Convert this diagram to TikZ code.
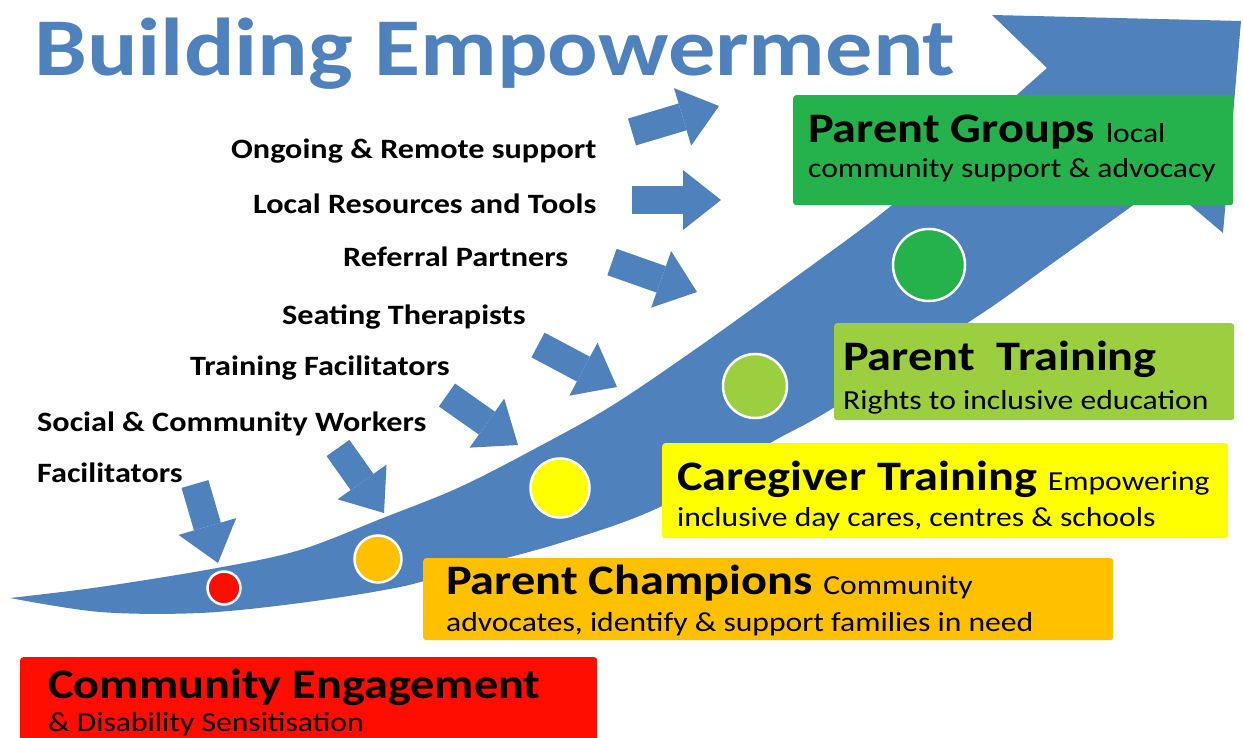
\documentclass[tikz,border=0pt]{standalone}
\usepackage{fontspec}
\setmainfont{Carlito}[FakeStretch=1.15]
\usetikzlibrary{arrows.meta}
\definecolor{pathBlue}{HTML}{4F81BD}
\definecolor{grpGreen}{HTML}{25B14C}
\definecolor{trainLime}{HTML}{9BCF3F}
\definecolor{careYellow}{HTML}{FFFF00}
\definecolor{champOrange}{HTML}{FFC000}
\definecolor{engageRed}{HTML}{FF0D00}
\tikzset{
  headline/.style={anchor=base west,inner sep=0pt,text=pathBlue,font=\bfseries\fontsize{82}{88}\selectfont},
  helper/.style={anchor=base west,inner sep=0pt,font=\bfseries\fontsize{28}{32}\selectfont},
  stagebox/.style={rectangle,rounded corners=3pt,anchor=north west,inner sep=0pt},
  stagetitle/.style={anchor=base west,inner sep=0pt,font=\bfseries\fontsize{42}{48}\selectfont},
  stagenote/.style={anchor=base west,inner sep=0pt,font=\fontsize{27.5}{32}\selectfont},
  milestone/.style={circle,draw=white,line width=2.5pt,inner sep=0pt},
  feed/.style={draw=pathBlue,line width=28pt,-{Triangle[length=38pt,width=60pt,line width=0pt]}}
}
\newcommand\aside[1]{{\mdseries\fontsize{27.5}{32}\selectfont #1}}

\begin{document}
\begin{tikzpicture}[x=1pt,y=-1pt]
  \useasboundingbox (0,0) rectangle (1243,738);
  \fill[white] (0,0) rectangle (1243,738);
  \clip (0,0) rectangle (1243,738);

  % the rising path with its head
  \fill[pathBlue]
    plot[smooth,tension=0.55] coordinates {(10,598) (100,587) (217,568) (300,550) (383,518) (460,487)
      (540,446) (613,405) (700,346) (800,274) (886,210) (966,140) (1047,68)}
    -- (992,15) -- (1241,21) -- (1223,233) -- (1164,183)
    -- plot[smooth,tension=0.55] coordinates {(1164,183) (1050,265) (975,318) (830,410) (772,442)
      (660,507) (560,543) (460,570) (400,587) (300,603) (200,613) (100,612) (10,598)}
    -- cycle;

  \node[headline] (title) at (34,76) {Building Empowerment};

  % supports feeding into the path
  \node[helper] (ongoing) at (231,159) {Ongoing \& Remote support};
  \node[helper] (local) at (253,214) {Local Resources and Tools};
  \node[helper] (referral) at (343,267) {Referral Partners};
  \node[helper] (seating) at (282,324) {Seating Therapists};
  \node[helper] (trainers) at (190,375) {Training Facilitators};
  \node[helper] (social) at (37,431) {Social \& Community Workers};
  \node[helper] (facil) at (37,482) {Facilitators};

  \foreach \sx/\sy/\ex/\ey [count=\i] in {632/132/719/106, 632/200/721/200, 612/262/697/292,
      538/345/617/387, 447/395/518/445, 338/448/384/513, 195/484/218/563} {
    \coordinate (src\i) at (\sx,\sy);
    \coordinate (dst\i) at (\ex,\ey);
    \draw[feed] (src\i) -- (dst\i);
  }

  % milestones along the path
  \node[milestone,fill=engageRed,minimum size=33pt] (m1) at (224,588) {};
  \node[milestone,fill=champOrange,minimum size=47pt] (m2) at (378,559) {};
  \node[milestone,fill=careYellow,minimum size=59pt] (m3) at (560,488) {};
  \node[milestone,fill=trainLime,minimum size=64pt] (m4) at (755,386) {};
  \node[milestone,fill=grpGreen,minimum size=72pt] (m5) at (929,265) {};

  % stages
  \node[stagebox,fill=grpGreen,minimum width=440pt,minimum height=110pt] (groups) at (793,95) {};
  \node[stagetitle] (groupsT) at (808,143) {Parent Groups \aside{local}};
  \node[stagenote] (groupsN) at (808,178) {community support \& advocacy};

  \node[stagebox,fill=trainLime,minimum width=400pt,minimum height=97pt] (training) at (834,323) {};
  \node[stagetitle] (trainingT) at (843,370) {Parent\ \ Training};
  \node[stagenote] (trainingN) at (843,409) {Rights to inclusive education};

  \node[stagebox,fill=careYellow,minimum width=566pt,minimum height=95pt] (care) at (662,443) {};
  \node[stagetitle] (careT) at (677,490) {Caregiver Training \aside{Empowering}};
  \node[stagenote] (careN) at (677,526) {inclusive day cares, centres \& schools};

  \node[stagebox,fill=champOrange,minimum width=690pt,minimum height=82pt] (champ) at (423,558) {};
  \node[stagetitle] (champT) at (446,594) {Parent Champions \aside{Community}};
  \node[stagenote] (champN) at (446,631) {advocates, identify \& support families in need};

  \node[stagebox,fill=engageRed,minimum width=577pt,minimum height=100pt] (engage) at (20,657) {};
  \node[stagetitle] (engageT) at (48,698) {Community Engagement};
  \node[stagenote] (engageN) at (48,731) {\& Disability Sensitisation};
\end{tikzpicture}
\end{document}
